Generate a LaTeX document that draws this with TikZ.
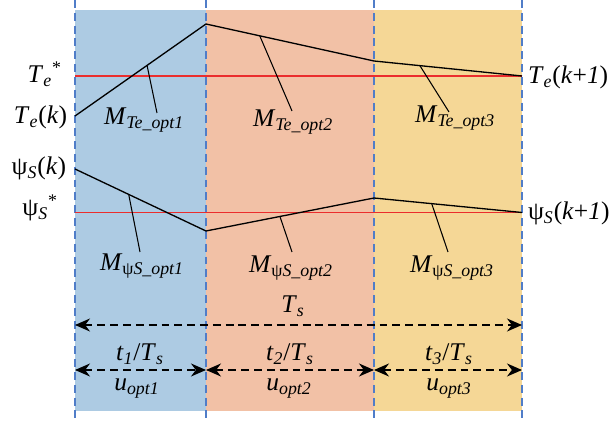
\documentclass[tikz,border=0pt]{standalone}
\usepackage{fontspec}
\setmainfont{Liberation Serif}
\usetikzlibrary{arrows.meta}

\definecolor{bandA}{RGB}{173,203,227}
\definecolor{bandB}{RGB}{242,193,166}
\definecolor{bandC}{RGB}{245,215,150}
\definecolor{sepblue}{RGB}{80,125,200}
\definecolor{refred}{RGB}{235,45,45}

\newcommand{\sbt}[1]{\textsubscript{\textit{#1}}}

\begin{document}
\begin{tikzpicture}[
        x=0.02cm, y=-0.02cm,
        font=\fontsize{14.5}{17}\selectfont,
        lbl/.style={inner sep=0pt, outer sep=0pt},
        sep/.style={draw=sepblue, line width=0.7pt, dash pattern=on 4.5pt off 2.8pt},
        refline/.style={draw=refred, line width=0.85pt},
        traj/.style={line width=0.75pt},
        lead/.style={line width=0.6pt},
        dimarr/.style={{Stealth[length=3mm,width=2.6mm]}-{Stealth[length=3mm,width=2.6mm]}, line width=0.85pt, dash pattern=on 4.5pt off 2.8pt},
    ]
        \useasboundingbox (0,0) rectangle (611,421);
        % bands
        \fill[bandA] (75,10) rectangle (206,411);
        \fill[bandB] (206,10) rectangle (374,411);
        \fill[bandC] (374,10) rectangle (522,411);
        \foreach \x/\n in {75/0,206/1,374/2,522/3} {
            \coordinate (st\n) at (\x,0);
            \coordinate (sb\n) at (\x,419);
            \draw[sep] (st\n) -- (sb\n);
        }
        % references
        \coordinate (ter0) at (75,76);
        \coordinate (ter1) at (522,76);
        \coordinate (psr0) at (75,212.5);
        \coordinate (psr1) at (522,212.5);
        \draw[refline] (psr0) -- (psr1);
        \draw[refline] (ter0) -- (ter1);
        % trajectories
        \coordinate (te0) at (75,116);
        \coordinate (te1) at (206,24);
        \coordinate (te2) at (374,61);
        \coordinate (te3) at (522,76);
        \coordinate (ps0) at (75,169);
        \coordinate (ps1) at (206,231);
        \coordinate (ps2) at (374,198);
        \coordinate (ps3) at (522,212.5);
        \draw[traj] (te0) -- coordinate[pos=.55] (mt1) (te1) -- coordinate[pos=.32] (mt2) (te2) -- coordinate[pos=.31] (mt3) (te3);
        \draw[traj] (ps0) -- coordinate[pos=.41] (mp1) (ps1) -- coordinate[pos=.44] (mp2) (ps2) -- coordinate[pos=.39] (mp3) (ps3);
        % leaders
        \coordinate (lt1) at (157,113);
        \coordinate (lt2) at (292,111);
        \coordinate (lt3) at (449,112);
        \coordinate (lp1) at (140,252);
        \coordinate (lp2) at (292,252);
        \coordinate (lp3) at (448,252);
        \draw[lead] (mt1) -- (lt1);
        \draw[lead] (mt2) -- (lt2);
        \draw[lead] (mt3) -- (lt3);
        \draw[lead] (mp1) -- (lp1);
        \draw[lead] (mp2) -- (lp2);
        \draw[lead] (mp3) -- (lp3);
        \node[lbl, anchor=base west] (mte1) at (104,125) {\textit{M}\sbt{Te\_opt1}};
        \node[lbl, anchor=base west] (mte2) at (253,127) {\textit{M}\sbt{Te\_opt2}};
        \node[lbl, anchor=base west] (mte3) at (415,123) {\textit{M}\sbt{Te\_opt3}};
        \node[lbl, anchor=base west] (mps1) at (100,271) {\textit{M}\textsubscript{ψ\textit{S\_opt1}}};
        \node[lbl, anchor=base west] (mps2) at (249,273) {\textit{M}\textsubscript{ψ\textit{S\_opt2}}};
        \node[lbl, anchor=base west] (mps3) at (410,273) {\textit{M}\textsubscript{ψ\textit{S\_opt3}}};
        % side labels
        \node[lbl, anchor=base east] (testar) at (62,83) {\textit{T}\sbt{e}\textsuperscript{*}};
        \node[lbl, anchor=base east] (tek) at (67,124) {\textit{T}\sbt{e}(\textit{k})};
        \node[lbl, anchor=base east] (psk) at (66,175) {ψ\sbt{S}(\textit{k})};
        \node[lbl, anchor=base east] (psstar) at (58,216) {ψ\sbt{S}\textsuperscript{*}};
        \node[lbl, anchor=base west] (tek1) at (528,84) {\textit{T}\sbt{e}(\textit{k}+\textit{1})};
        \node[lbl, anchor=base west] (psk1) at (528,220) {ψ\sbt{S}(\textit{k}+\textit{1})};
        % time spans
        \coordinate (ts0) at (75,325);
        \coordinate (ts1) at (522,325);
        \draw[dimarr] (ts0) -- (ts1);
        \node[lbl, anchor=base] (tslbl) at (293,313) {\textit{T}\sbt{s}};
        \coordinate (tb0) at (75,370);
        \coordinate (tb1) at (206,370);
        \coordinate (tb2) at (374,370);
        \coordinate (tb3) at (522,370);
        \draw[dimarr] (tb0) -- (tb1);
        \draw[dimarr] (tb1) -- (tb2);
        \draw[dimarr] (tb2) -- (tb3);
        \node[lbl, anchor=base] (t1lbl) at (140,361) {\textit{t}\sbt{1}/\textit{T}\sbt{s}};
        \node[lbl, anchor=base] (t2lbl) at (290,361) {\textit{t}\sbt{2}/\textit{T}\sbt{s}};
        \node[lbl, anchor=base] (t3lbl) at (449,361) {\textit{t}\sbt{3}/\textit{T}\sbt{s}};
        \node[lbl, anchor=base] (u1lbl) at (137,391) {\textit{u}\sbt{opt1}};
        \node[lbl, anchor=base] (u2lbl) at (289,391) {\textit{u}\sbt{opt2}};
        \node[lbl, anchor=base] (u3lbl) at (449,391) {\textit{u}\sbt{opt3}};
    \end{tikzpicture}
\end{document}
